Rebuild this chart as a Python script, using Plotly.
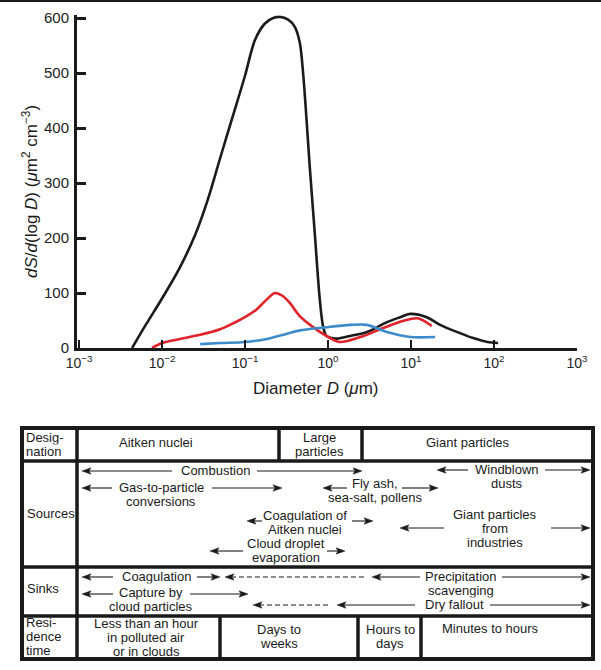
import plotly.graph_objects as go

# ---------------- data ----------------
# log10 of diameter (um) and dS/d(log D) (um^2 cm^-3)
black_logD = [-2.36, -2.2, -2.0, -1.8, -1.6, -1.45, -1.3, -1.15, -1.0, -0.88, -0.76, -0.66,
              -0.58, -0.48, -0.40, -0.34, -0.30, -0.27, -0.22, -0.16, -0.10, -0.06, -0.02,
              0.05, 0.11, 0.27, 0.47, 0.71, 0.87, 0.99, 1.19, 1.35, 1.59, 1.75, 1.92, 2.05]
black_S = [0, 41, 90, 142, 206, 269, 345, 420, 495, 560, 590, 600,
           602, 597, 584, 555, 500, 440, 330, 210, 90, 40, 22,
           18, 17, 22, 29, 47, 56, 62, 56, 42, 27, 18, 11, 9]

red_logD = [-2.12, -2.0, -1.8, -1.54, -1.3, -1.14, -0.98, -0.86, -0.74, -0.64, -0.55,
            -0.46, -0.34, -0.18, -0.04, 0.14, 0.39, 0.66, 0.90, 1.08, 1.25]
red_S = [0, 9, 16, 24, 34, 45, 58, 70, 88, 100, 95,
         82, 58, 38, 24, 11, 20, 36, 49, 54, 40]

blue_logD = [-1.54, -1.3, -1.0, -0.75, -0.54, -0.34, -0.06, 0.27, 0.47, 0.71, 0.99, 1.29]
blue_S = [7, 9, 11, 16, 24, 32, 37, 42, 42, 29, 20, 20]

x_tick_vals = [1e-3, 1e-2, 1e-1, 1e0, 1e1, 1e2, 1e3]
x_tick_text = ["10<sup>−3</sup>", "10<sup>−2</sup>", "10<sup>−1</sup>", "10<sup>0</sup>",
               "10<sup>1</sup>", "10<sup>2</sup>", "10<sup>3</sup>"]
y_tick_vals = [0, 100, 200, 300, 400, 500, 600]

x_title = "Diameter <i>D</i> (<i>μ</i>m)"
y_title = "<i>dS</i>/<i>d</i>(log <i>D</i>) (<i>μ</i>m<sup>2</sup> cm<sup>−3</sup>)"

row_headers = ["Desig-\nnation", "Sources", "Sinks", "Resi-\ndence\ntime"]
designation_labels = ["Aitken nuclei", "Large\nparticles", "Giant particles"]
source_labels = ["Combustion", "Gas-to-particle\nconversions", "Fly ash,\nsea-salt, pollens",
                 "Windblown\ndusts", "Coagulation of\nAitken nuclei", "Cloud droplet\nevaporation",
                 "Giant particles\nfrom\nindustries"]
sink_labels = ["Coagulation", "Capture by\ncloud particles", "Precipitation\nscavenging", "Dry fallout"]
residence_labels = ["Less than an hour\nin polluted air\nor in clouds", "Days to\nweeks",
                    "Hours to\ndays", "Minutes to hours"]

# ---------------- layout helpers (pixel -> paper) ----------------
W, H = 601, 670
def px(x):
    return x / W
def py(y):
    return 1 - y / H

FONT = "Liberation Sans, Arial, Helvetica, sans-serif"
INK = "#1a1a1a"

fig = go.Figure()
for lg, s, col in [(black_logD, black_S, "#1b1b1b"),
                   (red_logD, red_S, "#e0232b"),
                   (blue_logD, blue_S, "#3d8bca")]:
    fig.add_trace(go.Scatter(x=[10 ** v for v in lg], y=s, mode="lines",
                             line=dict(color=col, width=2.6, shape="spline", smoothing=0.9),
                             hoverinfo="skip", showlegend=False))

Y_TOP = 605  # a little headroom so the peak is not clipped
fig.update_layout(
    width=W, height=H, margin=dict(l=0, r=0, t=0, b=0),
    paper_bgcolor="white", plot_bgcolor="white", template="none",
    font=dict(family=FONT, color=INK),
    xaxis=dict(type="log", range=[-3 - 2 / 83, 3.0], domain=[px(77), px(577)],
               tickvals=x_tick_vals, ticktext=x_tick_text, ticks="inside", ticklen=8,
               tickwidth=2, tickcolor=INK, showline=True, linewidth=3, linecolor=INK,
               showgrid=False, zeroline=False, automargin=False,
               tickfont=dict(size=14, color="#222")),
    yaxis=dict(range=[0, Y_TOP], domain=[py(348), py(348 - 0.55 * Y_TOP)], tickvals=y_tick_vals,
               ticks="inside", ticklen=9, tickwidth=3, tickcolor=INK, showline=True,
               linewidth=3, linecolor=INK, showgrid=False, zeroline=False,
               automargin=False, tickfont=dict(size=15, color="#222"),
               ticklabelstandoff=2),
)

annotations = []
shapes = []

# axis titles
annotations.append(dict(text=x_title, x=px(316), y=py(388), xref="paper", yref="paper",
                        showarrow=False, font=dict(size=17, color=INK),
                        xanchor="center", yanchor="middle"))
annotations.append(dict(text=y_title, x=px(30), y=py(192), xref="paper", yref="paper",
                        showarrow=False, textangle=-90, font=dict(size=17, color=INK),
                        xanchor="center", yanchor="middle"))

# top rule
shapes.append(dict(type="line", xref="paper", yref="paper", x0=0, x1=1, y0=py(1), y1=py(1),
                   line=dict(color=INK, width=2)))

# ---------------- table frame ----------------
L, R, T, B = 22, 593, 428, 659
shapes.append(dict(type="rect", xref="paper", yref="paper", x0=px(L), x1=px(R), y0=py(B), y1=py(T),
                   line=dict(color=INK, width=4), fillcolor="rgba(0,0,0,0)"))
for yy in [461, 567, 616]:
    shapes.append(dict(type="line", xref="paper", yref="paper", x0=px(L), x1=px(R),
                       y0=py(yy), y1=py(yy), line=dict(color=INK, width=3.5)))
vlines = [(77, T, B), (279, T, 461), (362, T, 461), (220, 616, B), (358, 616, B), (421, 616, B)]
for xx, y0, y1 in vlines:
    shapes.append(dict(type="line", xref="paper", yref="paper", x0=px(xx), x1=px(xx),
                       y0=py(y0), y1=py(y1), line=dict(color=INK, width=3.5)))

# ---------------- table text (one annotation per line) ----------------
TXT = 13
STEP = 14
def add_text(label, x, y_first, anchor="center"):
    for i, line in enumerate(label.split("\n")):
        annotations.append(dict(text=line, x=px(x), y=py(y_first + i * STEP),
                                xref="paper", yref="paper", showarrow=False,
                                xanchor=anchor, yanchor="middle", height=STEP - 0.5,
                                borderpad=0, font=dict(size=TXT, color=INK)))

# (x, vertical middle of first line) in pixels
header_pos = [(25, 438), (26, 514), (26, 589), (25, 623)]
for lab, (x, y) in zip(row_headers, header_pos):
    add_text(lab, x, y, anchor="left")

for lab, (x, y) in zip(designation_labels, [(156, 443), (319, 438), (468, 443)]):
    add_text(lab, x, y)

src_pos = [(215, 471), (161, 488), (375, 484), (507, 470), (305, 516), (286, 544), (495, 515)]
for lab, (x, y) in zip(source_labels, src_pos):
    add_text(lab, x, y)

sink_pos = [(156, 577), (151, 593), (461, 577), (454, 605)]
for lab, (x, y) in zip(sink_labels, sink_pos):
    add_text(lab, x, y)

res_pos = [(146, 624), (279, 630), (390, 630), (490, 629)]
for lab, (x, y) in zip(residence_labels, res_pos):
    add_text(lab, x, y)

# ---------------- arrows (lines + filled heads) ----------------
HEAD_L, HEAD_W = 9, 3.2
def head(hx, direction, y):
    # direction: -1 arrow points left, +1 points right
    back = hx - direction * HEAD_L
    notch = hx - direction * (HEAD_L - 2)
    path = (f"M {px(hx)},{py(y)} L {px(back)},{py(y - HEAD_W)} "
            f"L {px(notch)},{py(y)} L {px(back)},{py(y + HEAD_W)} Z")
    shapes.append(dict(type="path", xref="paper", yref="paper", path=path,
                       fillcolor=INK, line=dict(color=INK, width=0.5)))

def arrow(hx, tx, y, dash="solid"):
    direction = 1 if hx > tx else -1
    shapes.append(dict(type="line", xref="paper", yref="paper",
                       x0=px(hx - direction * 6), x1=px(tx), y0=py(y), y1=py(y),
                       line=dict(color=INK, width=1.1, dash=dash)))
    head(hx, direction, y)

solid_arrows = [
    (82, 172, 471), (362, 257, 471),
    (82, 112, 488), (282, 212, 488),
    (323, 347, 488), (438, 402, 488),
    (437, 468, 470), (590, 545, 470),
    (247, 262, 521), (373, 352, 521),
    (210, 243, 551), (345, 327, 551),
    (400, 444, 528), (590, 551, 528),
    (82, 113, 577), (220, 197, 577),
    (372, 420, 577), (590, 502, 577),
    (82, 113, 594), (248, 190, 594),
    (337, 415, 605), (590, 490, 605),
]
for h, t, y in solid_arrows:
    arrow(h, t, y)

dashed_arrows = [(225, 366, 577), (253, 331, 605)]
for h, t, y in dashed_arrows:
    arrow(h, t, y, dash="5px,3px")

fig.update_layout(annotations=annotations, shapes=shapes)
fig.write_html("out.html", config={"displayModeBar": False},
               post_script="document.body.style.margin='0';document.body.style.padding='0';")
